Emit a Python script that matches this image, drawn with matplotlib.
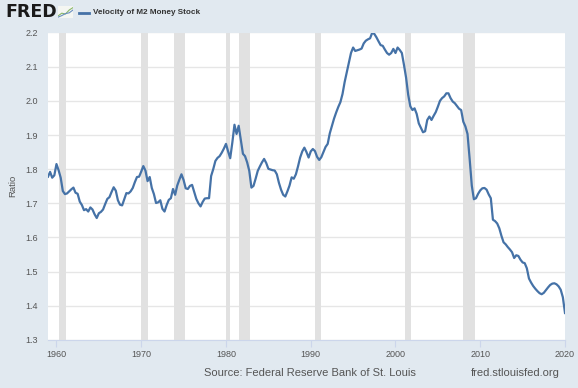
import matplotlib
matplotlib.use("Agg")
import matplotlib.pyplot as plt
import matplotlib.dates as mdates
import numpy as np
import pandas as pd

# Velocity of M2 Money Stock, quarterly, 1959Q1 - 2020Q1
m2v = [
    1.778, 1.792, 1.775, 1.782,  # 1959
    1.815, 1.797, 1.775, 1.736,  # 1960
    1.727, 1.729, 1.735, 1.741,  # 1961
    1.746, 1.731, 1.728, 1.705,  # 1962
    1.695, 1.680, 1.683, 1.676,  # 1963
    1.688, 1.682, 1.668, 1.657,  # 1964
    1.671, 1.675, 1.682, 1.698,  # 1965
    1.713, 1.718, 1.733, 1.747,  # 1966
    1.737, 1.709, 1.696, 1.694,  # 1967
    1.712, 1.730, 1.729, 1.735,  # 1968
    1.745, 1.762, 1.777, 1.778,  # 1969
    1.793, 1.809, 1.796, 1.765,  # 1970
    1.777, 1.745, 1.727, 1.701,  # 1971
    1.703, 1.709, 1.684, 1.676,  # 1972
    1.695, 1.710, 1.715, 1.742,  # 1973
    1.725, 1.752, 1.769, 1.785,  # 1974
    1.768, 1.744, 1.742, 1.751,  # 1975
    1.754, 1.733, 1.713, 1.700,  # 1976
    1.691, 1.704, 1.714, 1.715,  # 1977
    1.715, 1.780, 1.800, 1.824,  # 1978
    1.833, 1.838, 1.848, 1.860,  # 1979
    1.874, 1.852, 1.832, 1.878,  # 1980
    1.930, 1.903, 1.927, 1.885,  # 1981
    1.845, 1.838, 1.820, 1.795,  # 1982
    1.746, 1.751, 1.772, 1.795,  # 1983
    1.808, 1.820, 1.830, 1.818,  # 1984
    1.801, 1.799, 1.797, 1.796,  # 1985
    1.785, 1.760, 1.740, 1.725,  # 1986
    1.720, 1.735, 1.752, 1.776,  # 1987
    1.772, 1.785, 1.808, 1.834,  # 1988
    1.852, 1.863, 1.850, 1.834,  # 1989
    1.852, 1.859, 1.853, 1.836,  # 1990
    1.827, 1.835, 1.850, 1.865,  # 1991
    1.874, 1.905, 1.926, 1.948,  # 1992
    1.966, 1.982, 1.996, 2.020,  # 1993
    2.055, 2.083, 2.112, 2.140,  # 1994
    2.156, 2.146, 2.148, 2.150,  # 1995
    2.153, 2.168, 2.176, 2.180,  # 1996
    2.183, 2.199, 2.196, 2.186,  # 1997
    2.174, 2.163, 2.161, 2.150,  # 1998
    2.140, 2.135, 2.140, 2.152,  # 1999
    2.140, 2.156, 2.149, 2.140,  # 2000
    2.105, 2.068, 2.018, 1.984,  # 2001
    1.973, 1.978, 1.962, 1.934,  # 2002
    1.921, 1.908, 1.911, 1.944,  # 2003
    1.954, 1.944, 1.956, 1.967,  # 2004
    1.983, 2.000, 2.008, 2.013,  # 2005
    2.022, 2.022, 2.008, 1.998,  # 2006
    1.993, 1.985, 1.977, 1.973,  # 2007
    1.939, 1.925, 1.903, 1.830,  # 2008
    1.752, 1.712, 1.715, 1.728,  # 2009
    1.738, 1.744, 1.745, 1.740,  # 2010
    1.726, 1.715, 1.652, 1.648,  # 2011
    1.641, 1.627, 1.605, 1.586,  # 2012
    1.580, 1.572, 1.565, 1.557,  # 2013
    1.540, 1.548, 1.546, 1.535,  # 2014
    1.527, 1.525, 1.510, 1.480,  # 2015
    1.468, 1.458, 1.450, 1.443,  # 2016
    1.437, 1.434, 1.438, 1.446,  # 2017
    1.454, 1.461, 1.465, 1.466,  # 2018
    1.463, 1.457, 1.447, 1.425,  # 2019
    1.379,                       # 2020
]
dates = pd.date_range("1959-01-01", periods=len(m2v), freq="QS")

# NBER recessions (shaded)
rec_start = ["1960-04-01", "1969-12-01", "1973-11-01", "1980-01-01",
             "1981-07-01", "1990-07-01", "2001-03-01", "2007-12-01"]
rec_end = ["1961-02-01", "1970-11-01", "1975-03-01", "1980-07-01",
           "1982-11-01", "1991-03-01", "2001-11-01", "2009-06-01"]

yticks = [1.3, 1.4, 1.5, 1.6, 1.7, 1.8, 1.9, 2.0, 2.1, 2.2]
xtick_years = [1960, 1970, 1980, 1990, 2000, 2010, 2020]

plt.rcParams['font.family'] = ['Liberation Sans', 'DejaVu Sans']
bg = '#e1e9f0'

fig = plt.figure(figsize=(5.78, 3.88), dpi=100, facecolor=bg)
ax = fig.add_axes([48 / 578, 1 - 340 / 388, (565 - 48) / 578, (340 - 32.5) / 388])
ax.set_facecolor('white')

for s, e in zip(rec_start, rec_end):
    ax.axvspan(pd.Timestamp(s), pd.Timestamp(e), color='#e1e1e1', lw=0, zorder=1)

ax.plot(dates, m2v, color='#4572a7', lw=1.6, zorder=3, solid_joinstyle='round')

ax.set_ylim(1.3, 2.2)
ax.set_xlim(pd.Timestamp("1959-01-01"), pd.Timestamp("2020-01-01"))
ax.set_yticks(yticks)
ax.set_yticklabels([f"{v:.1f}" for v in yticks])
ax.set_xticks([pd.Timestamp(f"{y}-01-01") for y in xtick_years])
ax.xaxis.set_major_formatter(mdates.DateFormatter('%Y'))
ax.grid(axis='y', color='#e6e6e6', lw=1, zorder=0)
ax.set_axisbelow(True)

for side in ['top', 'right', 'left']:
    ax.spines[side].set_visible(False)
ax.spines['bottom'].set_color('#ccd6eb')
ax.tick_params(axis='y', length=0, labelsize=6.5, labelcolor='#555555', pad=7)
ax.tick_params(axis='x', length=5, color='#ccd6eb', labelsize=6.5, labelcolor='#555555', pad=2)

ax.set_ylabel('Ratio', fontsize=6.8, color='#555555')
ax.yaxis.set_label_coords(-31 / 517, 0.5)

# header: FRED logo and legend
fig.text(5 / 578, 1 - 12 / 388, 'FRED', fontsize=12.5, fontweight='heavy',
         color='#1a1a1a', va='center', ha='left', family=['DejaVu Sans'])
icon = fig.add_axes([58 / 578, 1 - 18 / 388, 15 / 578, 12 / 388])
icon.set_facecolor('#f4f6f2')
icon.plot([0, 1, 2, 3, 4], [0.5, 1.2, 1.0, 2.0, 2.6], color='#8ab86a', lw=0.8)
icon.plot([0, 1, 2, 3, 4], [0.2, 0.6, 1.1, 1.3, 2.0], color='#6a8fc0', lw=0.8)
icon.set_xlim(0, 4)
icon.set_ylim(0, 3)
icon.set_xticks([])
icon.set_yticks([])
for sp in icon.spines.values():
    sp.set_visible(False)

fig.add_artist(plt.Line2D([79 / 578, 89 / 578], [1 - 13 / 388, 1 - 13 / 388],
                          color='#4572a7', lw=2))
fig.text(93 / 578, 1 - 13 / 388, 'Velocity of M2 Money Stock', fontsize=5.9,
         fontweight='bold', color='#333333', va='center', ha='left')

# footer
fig.text(310 / 578, 1 - 373 / 388, 'Source: Federal Reserve Bank of St. Louis',
         fontsize=8, color='#555555', ha='center', va='center')
fig.text(560 / 578, 1 - 373 / 388, 'fred.stlouisfed.org', fontsize=8,
         color='#555555', ha='right', va='center')

fig.savefig('out.png', dpi=100, facecolor=bg)
